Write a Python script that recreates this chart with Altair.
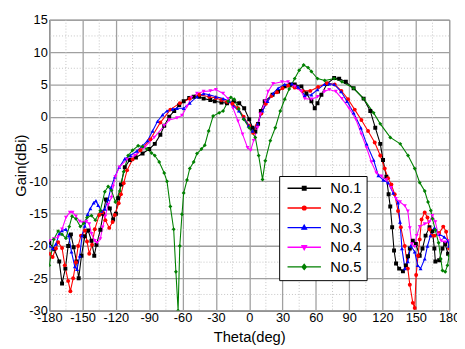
import altair as alt
import pandas as pd

series_names = ["No.1", "No.2", "No.3", "No.4", "No.5"]
series_colors = ["#000000", "#ff0000", "#0000ff", "#ff00ff", "#008000"]
marker_shapes = ["square", "circle", "triangle-up", "triangle-down", "diamond"]

x_major = list(range(-180, 181, 30))
x_minor = list(range(-165, 180, 30))
y_major = list(range(-30, 16, 5))
y_minor = [-27.5 + 5 * i for i in range(9)]

no1 = [(-180, -19.5), (-175.5, -20.5), (-171, -22.4), (-168.5, -25.8), (-165.5, -23.5), (-163, -20),
       (-160.5, -18.2), (-158, -20.2), (-155.5, -22.4), (-153.5, -25), (-151, -21.5), (-148, -18.5),
       (-145, -17.6), (-142, -19.2), (-139.5, -21.5), (-137.5, -19.8), (-134, -17.5), (-131.5, -15),
       (-129, -12.8), (-125.5, -14.2), (-122.5, -15.9), (-120, -15), (-118, -12.6), (-115.5, -10.5),
       (-112, -7.8), (-107.5, -6.7), (-102, -6.3), (-96, -5.7), (-90, -5), (-85, -4.2), (-80, -2.8),
       (-76.5, -1.4), (-72, 0), (-67.5, 0.9), (-63, 1.8), (-59, 2.4), (-54, 2.9), (-50, 3.1), (-45, 3.1),
       (-41, 2.8), (-35, 2.6), (-31, 2.4), (-25, 2.2), (-20, 2.1), (-14, 2.4), (-9, 2.1), (-4.5, 1.3),
       (0, -0.4), (3, -1.7), (5.5, -2.3), (8, -1.1), (10.5, 0.9), (14, 2.4), (21, 3.4), (26, 3.9),
       (32, 4.7), (37, 5), (41, 5), (47, 4.7), (51.5, 3.6), (56, 2.4), (59, 1.3), (61.5, 2.1), (65, 3.4),
       (70, 5.1), (76.5, 6), (81, 5.9), (87, 5.4), (94, 4.4), (103, 2.8), (109, 0.9), (113.5, -1.7),
       (118, -4.2), (120.5, -6.7), (123.5, -9.3), (125.5, -12), (127, -13.9), (128.7, -17.1),
       (130.4, -20.7), (132.2, -22.7), (135, -23.5), (138.4, -23.9), (141, -23), (143, -21.6),
       (144.6, -20.4), (147.3, -19.2), (150, -19.7), (153.5, -21.5), (156, -20.4), (158.8, -18.4),
       (162.3, -17.1), (165, -17.7), (166.7, -20.4), (167.6, -22.4), (171, -22.2), (174, -20.4),
       (176.4, -19.7), (179, -21.2)]

no2 = [(-180, -21.2), (-177, -21.7), (-174, -20.4), (-172, -19.4), (-168.5, -20.3), (-166, -23),
       (-163, -25.4), (-161, -27), (-158.5, -25), (-156, -22.5), (-154, -20), (-151.5, -18.4),
       (-148, -17.6), (-146, -19.3), (-144, -21.2), (-141.5, -19.8), (-139, -17.4), (-135, -15.2),
       (-132, -14.8), (-129.5, -16), (-126, -17.2), (-123, -16.3), (-121, -15.2), (-117.5, -13.4),
       (-115.5, -12), (-113, -10.3), (-110, -8.3), (-105, -6.6), (-98, -5.2), (-89, -3.5), (-80, -0.9),
       (-71, 1.1), (-62.5, 2.1), (-53.5, 2.8), (-45, 3.4), (-36, 3.1), (-30, 2.9), (-25, 2.6), (-20, 2.3),
       (-15, 2), (-10, 1.3), (-5, 0), (0, -1.4), (3.5, -2.5), (7, -1.3), (11, 0.5), (15, 2), (20, 3.2),
       (25, 3.8), (30, 4.4), (35, 4.8), (41, 4.5), (48, 4), (55, 4), (62, 4.6), (70, 5.2), (77, 5),
       (83, 4), (89, 2.7), (95, 1.1), (101, -0.5), (107, -2.2), (113, -4), (118, -6), (122, -8),
       (125, -9.5), (128, -10.5), (131, -12), (134, -14.6), (136.5, -17.1), (140, -20), (142.8, -23.5),
       (144.6, -26), (147.3, -28.8), (149, -29.6), (150.3, -24.5), (152, -21.5), (153.5, -19),
       (155.2, -15.9), (158, -14.8), (160.5, -15.6), (162.3, -17.4), (164, -18.4), (166.7, -18.4),
       (171, -18), (174.7, -17), (177.3, -17.8), (180, -20.4)]

no3 = [(-180, -20), (-177, -20.4), (-174, -19.7), (-171, -18.1), (-168.5, -17.6), (-165, -17.4),
       (-162.5, -18.4), (-160, -20.9), (-157, -23.2), (-155, -23.6), (-152.5, -21.5), (-150.5, -18.4),
       (-148, -16.9), (-145.5, -15.1), (-143, -14.2), (-140, -13.3), (-138, -13), (-136, -13.7),
       (-133, -14.6), (-130, -14.3), (-127, -12.8), (-124.5, -11), (-121, -9.3), (-117, -7.8),
       (-112, -6.5), (-107, -6), (-101, -5.3), (-96, -4.5), (-91.5, -3.7), (-87, -2.2), (-82.5, -0.7),
       (-78, 0.3), (-74, 0.9), (-69, 1.2), (-65, 1.3), (-59, 1.3), (-53.5, 2.1), (-47, 3.1), (-41, 3.6),
       (-36, 3.4), (-30, 3.1), (-23.5, 2.8), (-18, 2.4), (-14, 1.6), (-9.3, 0.9), (-5, -0.2),
       (-0.5, -1.4), (3, -2.2), (7.5, -1.1), (12, 0.9), (16.5, 2.4), (21.5, 3.6), (26, 4.4), (32, 5),
       (38.5, 5.1), (44, 4.6), (50, 3.3), (56, 3.4), (61.5, 4.2), (67.7, 5), (72, 5.1), (76.5, 5),
       (82.7, 3.9), (88, 2.4), (94, 0.6), (100.5, -1.7), (105.7, -4.2), (112, -6.7), (116.3, -9.1),
       (120.7, -9.8), (125, -10.2), (129.6, -11.8), (134, -13.3), (135.8, -16.3), (137.5, -20.4),
       (140.2, -23.5), (142.8, -22.4), (145.5, -20), (149, -20.9), (151.7, -23), (154.3, -23.5),
       (158, -22), (160.5, -20), (163.2, -18.4), (166.7, -17.2), (171, -18.2), (175.6, -18.6),
       (179, -19.2), (180, -20)]

no4 = [(-180, -19.2), (-176, -18.9), (-172, -18.6), (-168.5, -17.4), (-165, -15.6), (-161.5, -14.8),
       (-159, -14.8), (-156, -15.4), (-152.5, -16.2), (-149.5, -16.4), (-146.5, -16.2), (-144, -16.6),
       (-142, -18.1), (-139, -19.2), (-137, -19.5), (-134, -18.9), (-132, -17.1), (-129.5, -15.4),
       (-127, -13.6), (-124, -12.5), (-122.5, -10.8), (-120.5, -9.3), (-117, -7.8), (-110, -6.6),
       (-103, -6), (-94, -4.7), (-85.5, -3.2), (-76.5, -1.4), (-72, -0.5), (-65, -0.2), (-60.5, 0.2),
       (-56, 1.6), (-52, 3), (-47, 3.6), (-41, 3.9), (-35, 4), (-30, 4.2), (-23.5, 3.6), (-19, 2.8),
       (-14.5, 1.3), (-10, -0.7), (-6, -2.7), (-1.5, -4.8), (1.3, -5.2), (4, -3.7), (7.5, -1.7),
       (10, 0.4), (14.5, 2.4), (17, 3.9), (21.5, 5.1), (29.5, 5.4), (35, 5.4), (41, 4.7), (47, 3.9),
       (50, 2.8), (56, 2.7), (61.5, 3.1), (67.7, 3.9), (72, 4.2), (78, 3.9), (83.5, 2.8), (90, 1.3),
       (96, -0.4), (101, -2.7), (105.7, -4.8), (110, -7), (114.5, -8.7), (119, -9.2), (123.4, -9.8),
       (127.8, -11), (132.2, -12.7), (135.8, -13.2), (140.2, -13.8), (142.8, -14.6), (144.6, -17.2),
       (146.4, -19.7), (149, -20.1), (150.8, -18.4), (153.5, -17), (158, -16.6), (162.3, -16.3),
       (165, -15.3), (167.6, -16.3), (170.2, -18.2), (172.9, -19.2), (176.4, -19.4), (180, -19.2)]

no5 = [(-180, -23), (-176, -19), (-172, -17.7), (-168.5, -18.2), (-165, -18.8), (-162, -17),
       (-159.5, -15.4), (-156, -15.8), (-152, -17), (-149, -16.5), (-146, -15.6), (-142, -15.3),
       (-138.5, -16), (-134, -14.5), (-130, -11.6), (-127, -10.8), (-124, -11.4), (-120.5, -13.2),
       (-116.5, -11.5), (-113, -8.5), (-109, -6), (-105, -5.2), (-100, -4.5), (-96, -4.6), (-92, -5),
       (-88, -5.6), (-85, -6), (-81, -7), (-76.5, -8.7), (-74, -10), (-71, -13.9), (-68, -17.4),
       (-66, -24), (-64, -30), (-62.5, -20), (-60.5, -15.1), (-59, -11.8), (-56, -9.8), (-53.5, -8),
       (-50, -7), (-47, -5.7), (-43, -5), (-40, -4.4), (-36.5, -2.2), (-32.5, 0.1), (-27, 0.6),
       (-23.5, 0.9), (-19, 2.4), (-16.5, 3), (-13.5, 2.7), (-9.5, 1.2), (-5, -0.4), (0, -1.7),
       (5.5, -3.2), (8.5, -6), (12, -9.7), (14.5, -6.8), (19, -3.7), (23.5, -1.7), (28, 0.9), (32, 2.7),
       (36, 4.3), (41, 5.9), (45, 7.2), (49, 8), (53, 7.6), (56, 7), (61.5, 5.9), (68, 5.6), (76.5, 5.9),
       (83.5, 5.4), (94, 4.4), (103, 2.8), (112, 0.6), (118, -1.1), (127, -3.2), (136, -4.2), (143, -6),
       (149, -8), (153.5, -10.2), (158, -11.5), (161, -13.2), (163.5, -14.5), (165, -15.8),
       (167.5, -17.5), (170.5, -19.5), (172.5, -22), (174, -23.8), (176.5, -24), (178.5, -23),
       (180, -21.5)]

rows = []
for name, pts in zip(series_names, [no1, no2, no3, no4, no5]):
    for i, (t, g) in enumerate(pts):
        rows.append({"series": name, "theta": t, "gain": g, "idx": i})
df = pd.DataFrame(rows)

# legend symbols: a line segment with the marker in its middle
legend_paths = [
    "M-3.4,0H3.4M-0.36,-0.36H0.36V0.36H-0.36Z",
    "M-3.4,0H3.4M-0.38,0A0.38,0.38 0 1,0 0.38,0A0.38,0.38 0 1,0 -0.38,0Z",
    "M-3.4,0H3.4M0,-0.48L0.45,0.32H-0.45Z",
    "M-3.4,0H3.4M0,0.48L0.45,-0.32H-0.45Z",
    "M-3.4,0H3.4M0,-0.5L0.42,0L0,0.5L-0.42,0Z",
]

axis_common = dict(
    domain=False, ticks=False, labelFont="Liberation Sans", labelFontSize=13,
    labelColor="black", labelFlush=False, labelOverlap=False, labelBound=False,
    titleFont="Liberation Sans", titleFontSize=15, titleFontWeight="normal",
    titleColor="black", gridColor="#a0a0a0", gridWidth=1.3,
)
x_axis = alt.Axis(values=x_major, labelExpr="'' + datum.value", title="Theta(deg)",
                  labelPadding=1, titlePadding=5, **axis_common)
y_axis = alt.Axis(values=y_major, labelExpr="'' + datum.value", title="Gain(dBi)",
                  labelPadding=2, titlePadding=0, **axis_common)

xs = alt.Scale(domain=[-180, 180], nice=False, zero=False)
ys = alt.Scale(domain=[-30, 15], nice=False, zero=False)
cs = alt.Scale(domain=series_names, range=series_colors)

vgrid = alt.Chart(pd.DataFrame({"v": x_minor})).mark_rule(
    color="#c4c4c4", strokeWidth=1, strokeDash=[1, 2]
).encode(x=alt.X("v:Q", scale=xs, axis=x_axis))
hgrid = alt.Chart(pd.DataFrame({"v": y_minor})).mark_rule(
    color="#c4c4c4", strokeWidth=1, strokeDash=[1, 2]
).encode(y=alt.Y("v:Q", scale=ys, axis=y_axis))

base = alt.Chart(df)

lines = base.mark_line(strokeWidth=1.1, clip=True).encode(
    x=alt.X("theta:Q", scale=xs, axis=x_axis),
    y=alt.Y("gain:Q", scale=ys, axis=y_axis),
    color=alt.Color("series:N", scale=cs, legend=None),
    order="idx:Q",
)

points = base.mark_point(filled=True, size=16, clip=True, opacity=1).encode(
    x=alt.X("theta:Q", scale=xs, axis=x_axis),
    y=alt.Y("gain:Q", scale=ys, axis=y_axis),
    color=alt.Color("series:N", scale=cs, legend=None),
    shape=alt.Shape("series:N", scale=alt.Scale(domain=series_names, range=marker_shapes), legend=None),
)

leg = alt.Legend(
    orient="none", legendX=234, legendY=159, title=None, padding=5,
    strokeColor="black", fillColor="white", symbolSize=100, symbolStrokeWidth=1.4,
    symbolOffset=13, labelOffset=19, labelFontSize=15, labelFont="Liberation Sans",
    labelColor="black", rowPadding=4,
)

legend_layer = base.mark_point(filled=True, opacity=1, strokeWidth=1.4).encode(
    fill=alt.Fill("series:N", scale=cs, legend=leg),
    stroke=alt.Stroke("series:N", scale=cs, legend=leg),
    shape=alt.Shape("series:N", scale=alt.Scale(domain=series_names, range=legend_paths), legend=leg),
).transform_filter("datum.theta > 1000")

chart = alt.layer(vgrid, hgrid, lines, points, legend_layer).resolve_scale(
    color="independent", shape="independent", fill="independent", stroke="independent"
).properties(
    width=407, height=296,
    autosize=alt.AutoSizeParams(type="none"),
    padding={"left": 42, "top": 9, "right": 8, "bottom": 32},
    background="white",
).configure_view(stroke="black", strokeWidth=1)

chart.save("out.html", embed_options={"renderer": "svg", "actions": False})
